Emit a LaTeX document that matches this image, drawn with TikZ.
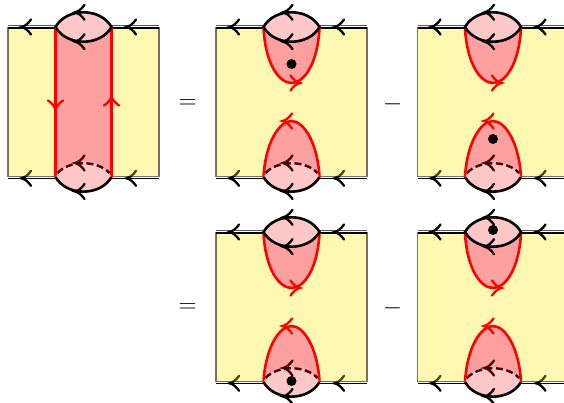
\documentclass[tikz,border=0pt]{standalone}
\definecolor{yel}{RGB}{255,232,0}
\definecolor{redfill}{RGB}{255,160,160}
\definecolor{pinkfill}{RGB}{255,200,200}
\definecolor{dashcol}{RGB}{70,0,10}
\tikzset{
  blk/.style={draw=black,line width=2.6pt},
  redl/.style={draw=red,line width=2.6pt},
  tipline/.style={line width=2.3pt,line cap=round},
  opsign/.style={inner sep=0pt,font=\fontsize{37}{40}\selectfont},
  pics/arrowtip/.style={code={
    \draw[tipline,#1] (9.5,-7.5) .. controls (6.5,-3) and (3,-.6) .. (0,0) .. controls (3,.6) and (6.5,3) .. (9.5,7.5);
  }},
  pics/arrowtip/.default=black
}
\newcommand{\panelbase}{%
  % boundary lines beneath the translucent sheet
  \draw[black!65,line width=.9pt] (-75.5,-1.7) -- (-28,-1.7) (28,-1.7) -- (75.5,-1.7);
  \draw[black,line width=1.3pt] (-75.5,151.3) -- (-28,151.3) (28,151.3) -- (75.5,151.3);
  \pic at (-62,151.3) {arrowtip};
  \pic at (43,151.3) {arrowtip};
  \fill[yel,fill opacity=.3] (-75.5,1) rectangle (75.5,149.5);
  \draw[black,opacity=.55,line width=1.1pt] (-75.5,1) rectangle (75.5,149.5);
  \draw[black,line width=1.1pt] (-75.5,1) -- (-28,1) (28,1) -- (75.5,1);
  \pic at (-62,0) {arrowtip};
  \pic at (43,0) {arrowtip};
}
\newcommand{\panelcaps}{%
  \fill[pinkfill] (-28,150) .. controls (-17,130.5) and (17,130.5) .. (28,150) .. controls (17,169.5) and (-17,169.5) .. (-28,150) -- cycle;
  \draw[dashcol,line width=2.4pt,dash pattern=on 7pt off 3.5pt] (-26,146) .. controls (-14,133) and (14,133) .. (26,146);
  \pic at (-8.5,136) {arrowtip=dashcol};
  \path[blk] (-28,150) .. controls (-17,169.5) and (17,169.5) .. (28,150);
  \pic at (-8.5,164.5) {arrowtip};
  \path[fill=pinkfill,blk] (-28,0) .. controls (-17,-19.6) and (17,-19.6) .. (28,0) .. controls (17,19.6) and (-17,19.6) .. (-28,0) -- cycle;
  \pic at (-8.5,-14.7) {arrowtip};
  \pic at (-8.5,14.7) {arrowtip};
}
\newcommand{\panelfull}{%
  \panelbase
  \fill[redfill] (-28,1) rectangle (28,150);
  \path[redl] (-28,1) -- (-28,150);
  \path[redl] (28,1) -- (28,150);
  \pic[rotate=90] at (-28,83) {arrowtip=red};
  \pic[rotate=-90] at (28,69) {arrowtip=red};
  \panelcaps
}
\newcommand{\panelcut}{%
  \panelbase
  \path[fill=redfill,redl] (-28,1) .. controls (-26,38) and (-12,56) .. (0,56) .. controls (12,56) and (26,38) .. (28,1);
  \pic[rotate=180] at (8.5,56) {arrowtip=red};
  \path[fill=redfill,redl] (-28,150) .. controls (-26,115) and (-12,94) .. (0,94) .. controls (12,94) and (26,115) .. (28,150);
  \pic at (-9,94) {arrowtip=red};
  \panelcaps
}
\begin{document}
\begin{tikzpicture}[x=1pt,y=-1pt]
  \useasboundingbox (0,0) rectangle (564,403);
  \clip (0,0) rectangle (564,403);
  \begin{scope}[shift={(83.5,27)}] \panelfull \end{scope}
  \begin{scope}[shift={(291.5,27)}] \panelcut \fill (0,37) circle (5); \end{scope}
  \begin{scope}[shift={(493,27)}] \panelcut \fill (0,112) circle (5); \end{scope}
  \begin{scope}[shift={(291.5,232)}] \panelcut \fill (0,149) circle (5); \end{scope}
  \begin{scope}[shift={(493,232)}] \panelcut \fill (0,-2) circle (5); \end{scope}
  \node[opsign] (eqa) at (187.5,104) {$=$};
  \node[opsign] (eqb) at (187.5,308) {$=$};
  \node[opsign] (mia) at (392.5,104) {$-$};
  \node[opsign] (mib) at (392.5,308) {$-$};
\end{tikzpicture}
\end{document}
